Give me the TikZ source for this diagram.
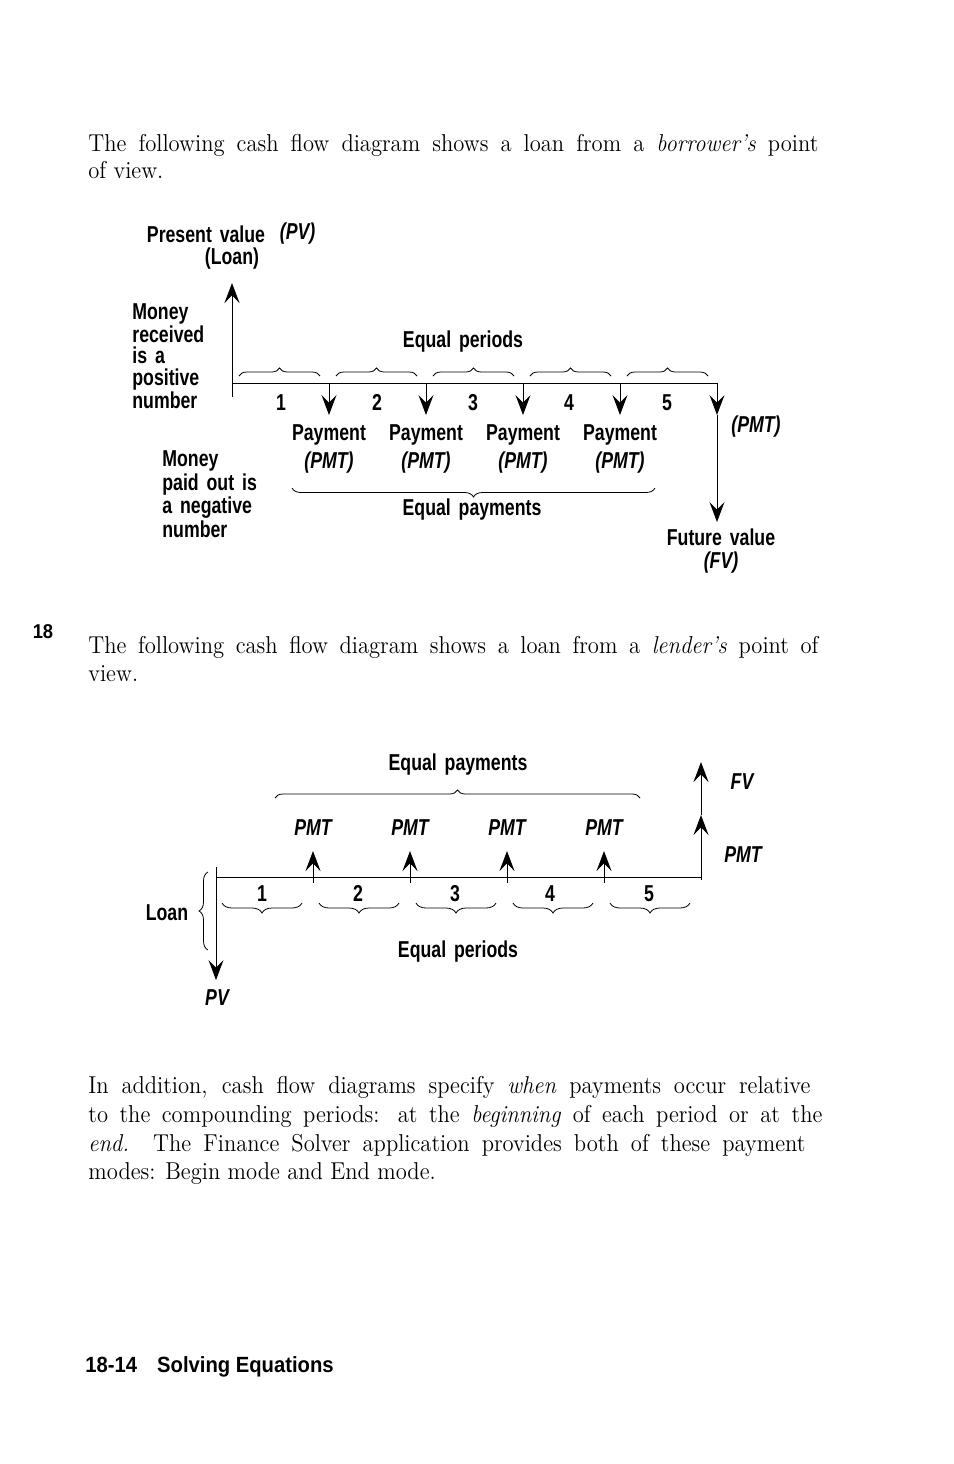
\documentclass[tikz,border=0pt]{standalone}
\usepackage{fontspec}
\usepackage{graphicx}
\usepackage{tikz}
\usetikzlibrary{arrows.meta,decorations.pathreplacing,positioning}
\newfontfamily\diagfont[FakeStretch=0.77,WordSpace=1.6]{Liberation Sans}
\newfontfamily\headfont[FakeStretch=0.92]{Liberation Sans}
\newcommand{\lblfont}{\diagfont\bfseries\fontsize{11.5}{10.65}\selectfont}
\newcommand{\bodyfont}{\fontsize{11.3}{13}\selectfont}
\newcommand{\jline}[2]{\scalebox{1}[1.08]{\makebox[#1][s]{#2}}}
\newcommand{\tline}[1]{\scalebox{1}[1.08]{#1}}
\tikzset{
  lbl/.style={font=\lblfont, inner sep=0pt},
  lbli/.style={font=\lblfont\itshape, inner sep=0pt},
  num/.style={lbl, text height=8.2pt, text depth=0pt},
  body/.style={font=\bodyfont, inner sep=0pt, anchor=base west},
  head/.style={font=\headfont\bfseries, inner sep=0pt},
  flow/.style={-{Stealth[length=10pt,width=7.5pt,inset=3.8pt]}, line width=0.5pt},
  axis/.style={line width=0.5pt},
  per/.style={decorate, decoration={brace, amplitude=4pt}, line width=0.4pt},
}

\begin{document}
\begin{tikzpicture}[x=0.5pt,y=-0.5pt]
  \useasboundingbox (0,0) rectangle (954,1464);
  % opening text
  \node[body] (p1a) at (88,151)
    {\jline{365pt}{The following cash flow diagram shows a loan from a \textit{borrower's} point}};
  \node[body] (p1b) at (88,178) {\tline{of view.}};

  % borrower's view
  \coordinate (o) at (232,383);
  \coordinate (top) at (232,283);
  \coordinate (bot) at (232,397);
  \coordinate (t1) at (329,383);
  \coordinate (t2) at (426,383);
  \coordinate (t3) at (523,383);
  \coordinate (t4) at (620,383);
  \coordinate (t5) at (717,383);
  \coordinate (d1) at (329,415);
  \coordinate (d2) at (426,415);
  \coordinate (d3) at (523,415);
  \coordinate (d4) at (620,415);
  \coordinate (d5) at (717,415);
  \coordinate (fv) at (717,522);
  \draw[flow] (bot) -- (top);
  \draw[axis] (o) -- (t5);
  \draw[flow] (t1) -- (d1);
  \draw[flow] (t2) -- (d2);
  \draw[flow] (t3) -- (d3);
  \draw[flow] (t4) -- (d4);
  \draw[flow] (t5) -- (d5);
  \draw[flow] (d5) -- (fv);
  \node[lbl] (pv) at (206,234) {Present value};
  \node[lbli, right=7pt of pv] (pvs) {(PV)};
  \node[lbl] (loan) at (232,259) {(Loan)};
  \node[lbl, align=left, anchor=west] (recv) at (132,356)
    {Money\\received\\is a\\positive\\number};
  \node[lbl, align=left, anchor=west] (paid) at (162,494)
    {Money\\paid out is\\a negative\\number};
  \draw[per] (239,376) -- (320,376);
  \draw[per] (336,376) -- (417,376);
  \draw[per] (433,376) -- (514,376);
  \draw[per] (530,376) -- (611,376);
  \draw[per] (627,376) -- (708,376);
  \node[lbl] (eqp) at (463,342) {Equal periods};
  \node[num] (n1) at (281,402) {1};
  \node[num] (n2) at (377,402) {2};
  \node[num] (n3) at (473,402) {3};
  \node[num] (n4) at (569,402) {4};
  \node[num] (n5) at (667,402) {5};
  \node[lbl] (pay1) at (329,435) {Payment};
  \node[lbl] (pay2) at (426,435) {Payment};
  \node[lbl] (pay3) at (523,435) {Payment};
  \node[lbl] (pay4) at (620,435) {Payment};
  \node[lbli] (pmt1) at (329,463) {(PMT)};
  \node[lbli] (pmt2) at (426,463) {(PMT)};
  \node[lbli] (pmt3) at (523,463) {(PMT)};
  \node[lbli] (pmt4) at (620,463) {(PMT)};
  \node[lbli] (pmt5) at (756,427) {(PMT)};
  \draw[per, decoration={amplitude=4.5pt}] (655,488) -- (292,488);
  \node[lbl] (eqpay) at (472,510) {Equal payments};
  \node[lbl] (fut) at (721,537) {Future value};
  \node[lbli, below=3pt of fut] (fvs) {(FV)};

  % lender's view
  \node[head, font=\headfont\bfseries\fontsize{10}{11}\selectfont] (chap) at (43,632) {18};
  \node[body] (p2a) at (88,653)
    {\jline{365pt}{The following cash flow diagram shows a loan from a \textit{lender's} point of}};
  \node[body] (p2b) at (88,681) {\tline{view.}};
  \coordinate (lo) at (216,877);
  \coordinate (ltop) at (216,867);
  \coordinate (lpv) at (216,980);
  \coordinate (lt5) at (701,877);
  \coordinate (lb1) at (313,883);
  \coordinate (lb2) at (410,883);
  \coordinate (lb3) at (507,883);
  \coordinate (lb4) at (604,883);
  \coordinate (lu1) at (313,851);
  \coordinate (lu2) at (410,851);
  \coordinate (lu3) at (507,851);
  \coordinate (lu4) at (604,851);
  \coordinate (lr) at (701,880);
  \coordinate (lu5) at (701,815);
  \coordinate (lfv) at (701,762);
  \draw[flow] (ltop) -- (lpv);
  \draw[axis] (lo) -- (lt5);
  \draw[flow] (lb1) -- (lu1);
  \draw[flow] (lb2) -- (lu2);
  \draw[flow] (lb3) -- (lu3);
  \draw[flow] (lb4) -- (lu4);
  \draw[flow] (lr) -- (lu5);
  \draw[flow] (lu5) -- (lfv);
  \node[lbl] (leqpay) at (458,765) {Equal payments};
  \draw[per] (275,798) -- (640,798);
  \node[lbli] (lpmt1) at (313,828) {PMT};
  \node[lbli] (lpmt2) at (410,828) {PMT};
  \node[lbli] (lpmt3) at (507,828) {PMT};
  \node[lbli] (lpmt4) at (604,828) {PMT};
  \node[lbli] (lfvs) at (742,782) {FV};
  \node[lbli] (lpmt5) at (743,855) {PMT};
  \node[num] (ln1) at (262,893) {1};
  \node[num] (ln2) at (358,893) {2};
  \node[num] (ln3) at (455,893) {3};
  \node[num] (ln4) at (550,893) {4};
  \node[num] (ln5) at (649,893) {5};
  \draw[per, decoration={amplitude=5pt}] (302,903) -- (222,903);
  \draw[per, decoration={amplitude=5pt}] (399,903) -- (319,903);
  \draw[per, decoration={amplitude=5pt}] (496,903) -- (416,903);
  \draw[per, decoration={amplitude=5pt}] (593,903) -- (513,903);
  \draw[per, decoration={amplitude=5pt}] (690,903) -- (610,903);
  \node[lbl] (leqp) at (458,952) {Equal periods};
  \draw[per, decoration={amplitude=4.5pt}] (208,950) -- (208,872);
  \node[lbl] (lloan) at (167,913) {Loan};
  \node[lbli] (lpvs) at (217,998) {PV};

  % closing text
  \node[body] (p3a) at (88,1093)
    {\jline{361pt}{In addition, cash flow diagrams specify \textit{when} payments occur relative}};
  \node[body] (p3b) at (88,1122)
    {\jline{367pt}{to the compounding periods: at the \textit{beginning} of each period or at the}};
  \node[body] (p3c) at (88,1151)
    {\jline{358.5pt}{\textit{end.} The Finance Solver application provides both of these payment}};
  \node[body] (p3d) at (88,1179) {\tline{modes: Begin mode and End mode.}};
  \node[head, font=\headfont\bfseries\fontsize{11}{12}\selectfont, anchor=west] (foot) at (85,1367)
    {18-14\hspace{10pt}Solving Equations};
\end{tikzpicture}
\end{document}
